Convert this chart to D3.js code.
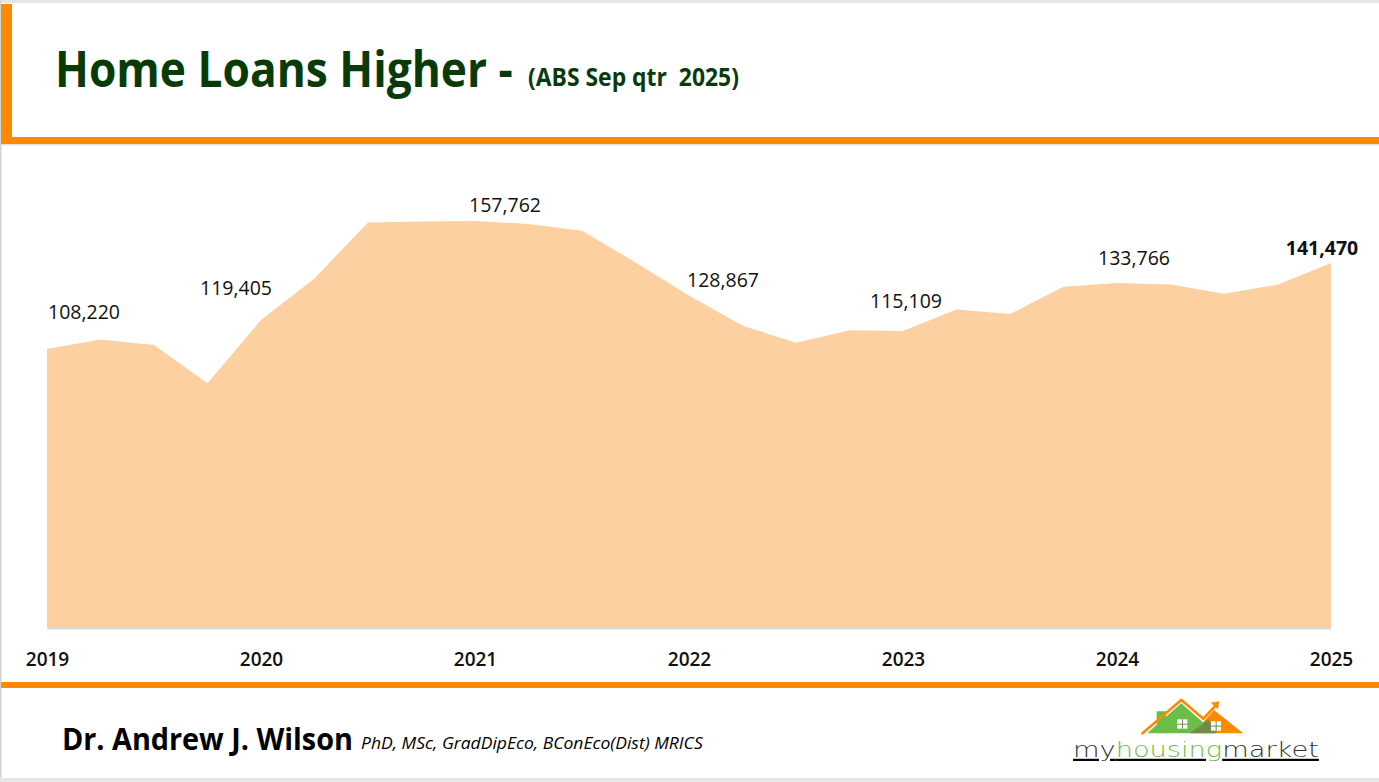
<!DOCTYPE html>
<html>
<head>
<meta charset="utf-8">
<script src="https://cdn.jsdelivr.net/npm/d3@7"></script>
<style>
  body { margin: 0; background: #fff; }
  svg { display: block; font-family: "Open Sans", sans-serif; }
</style>
</head>
<body>
<div id="chart"></div>
<script>
// quarterly home loan counts, 2019 to 2025 (ABS)
var quarters = d3.range(25);
var loans = [108220, 111900, 109700, 94900, 119405, 135500, 157200, 157600, 157762,
  156600, 154000, 141700, 128867, 117200, 110600, 115400, 115109, 123500, 121700,
  132300, 133766, 133200, 129600, 133100, 141470];
var yearTicks = [0, 4, 8, 12, 16, 20, 24];
var yearLabels = ["2019", "2020", "2021", "2022", "2023", "2024", "2025"];
var labelled = [0, 4, 8, 12, 16, 20, 24];

// label nudges (px) so the values sit where the original put them
var labelShift = [[37, -30], [-25, -25], [30, -9], [34, -9], [3, -23], [17, -18], [-9, -8]];

var svgWidth = 1379, svgHeight = 782;
var svg = d3.select("#chart").append("svg")
  .attr("width", svgWidth)
  .attr("height", svgHeight);

// squeeze a text horizontally to a given width (Calibri is narrower than our fonts)
function fitText(t, x0, y0, w) {
  var natural = t.node().getComputedTextLength();
  t.attr("x", 0).attr("y", 0)
    .attr("transform", "translate(" + x0 + "," + y0 + ") scale(" + (w / natural) + ",1)");
  return t;
}

// slide frame
svg.append("rect").attr("x", 0).attr("y", 0).attr("width", svgWidth).attr("height", 3).attr("fill", "#e6e6e6");
svg.append("rect").attr("x", 0).attr("y", 0).attr("width", 1.5).attr("height", svgHeight).attr("fill", "#d4d4d4");
svg.append("rect").attr("x", 0).attr("y", 778).attr("width", svgWidth).attr("height", 4).attr("fill", "#e6e6e6");

// orange header frame
svg.append("rect").attr("x", 1).attr("y", 4).attr("width", 11).attr("height", 140).attr("fill", "#ff8a00");
svg.append("rect").attr("x", 1).attr("y", 137).attr("width", svgWidth).attr("height", 7).attr("fill", "#ff8a00");
svg.append("rect").attr("x", 1).attr("y", 144).attr("width", svgWidth).attr("height", 1.5).attr("fill", "#e3e3e3");
// footer rule
svg.append("rect").attr("x", 1).attr("y", 682).attr("width", svgWidth).attr("height", 6).attr("fill", "#ff8a00");

// title
var title = svg.append("text")
  .attr("fill", "#093b09")
  .style("font-weight", "bold")
  .style("font-size", "51px")
  .text("Home Loans Higher -");
fitText(title, 55, 87, 458);
var sub = svg.append("text")
  .attr("fill", "#093b09")
  .style("font-weight", "bold")
  .style("font-size", "25px")
  .style("white-space", "pre")
  .text("(ABS Sep qtr  2025)");
fitText(sub, 528, 86, 211);

// scales
var x = d3.scaleLinear().domain([0, 24]).range([47, 1331]);
var y = d3.scaleLinear().domain([0, 160000]).range([628.3, 215.2]);

var area = d3.area()
  .x(function (d, i) { return x(quarters[i]); })
  .y0(y(0))
  .y1(function (d) { return y(d); });

svg.append("path")
  .datum(loans)
  .attr("d", area)
  .attr("fill", "#fdd0a2");

// year axis
var xAxis = d3.axisBottom(x)
  .tickValues(yearTicks)
  .tickSize(0)
  .tickPadding(24)
  .tickFormat(function (d, i) { return yearLabels[i]; });

var axisG = svg.append("g")
  .attr("transform", "translate(0, " + y(0) + ")")
  .call(xAxis);
axisG.select(".domain").attr("stroke", "#d9d9d9").attr("stroke-width", 1.5);
axisG.selectAll("text")
  .attr("fill", "#111")
  .style("font-family", "'Open Sans', sans-serif")
  .style("font-size", "19px")
  .style("font-weight", "600");

// value labels
svg.selectAll("text.val")
  .data(labelled)
  .enter()
  .append("text")
  .attr("class", "val")
  .attr("x", function (d, i) { return x(quarters[d]) + labelShift[i][0]; })
  .attr("y", function (d, i) { return y(loans[d]) + labelShift[i][1]; })
  .attr("text-anchor", "middle")
  .attr("fill", "#111")
  .style("font-size", "19.5px")
  .style("font-weight", function (d, i) { return i === labelled.length - 1 ? "bold" : "normal"; })
  .text(function (d) { return d3.format(",")(loans[d]); });

// author line
var author = svg.append("text")
  .style("font-weight", "bold")
  .style("font-size", "30px")
  .attr("fill", "#000")
  .text("Dr. Andrew J. Wilson");
fitText(author, 62, 750, 291);
var creds = svg.append("text")
  .style("font-style", "italic")
  .style("font-size", "17px")
  .attr("fill", "#000")
  .text("PhD, MSc, GradDipEco, BConEco(Dist) MRICS");
fitText(creds, 361, 749, 342);

// myhousingmarket logo (drawn in 3x local units)
var logo = svg.append("g").attr("transform", "translate(1060,690) scale(0.3333)");
logo.append("path")
  .attr("d", "M400,130 L462,60 L550,130 Z")
  .attr("fill", "#ff8a00");
logo.append("path")
  .attr("d", "M262,130 L290,104 L290,64 L318,64 L318,80 L364,40 L432,100 L400,130 Z")
  .attr("fill", "#6cbd45");
logo.append("path")
  .attr("d", "M388,130 L432,100 L450,80 L400,130 Z M400,130 L432,100 L445,88 L470,130 Z")
  .attr("fill", "#6e8d4a");
logo.append("path")
  .attr("d", "M245,132 L364,30 L430,86 L470,44")
  .attr("fill", "none")
  .attr("stroke", "#ff8a00")
  .attr("stroke-width", 8);
logo.append("path")
  .attr("d", "M452,38 L478,34 L474,58 Z")
  .attr("fill", "#ff8a00");
[[352, 88], [453, 94]].forEach(function (p) {
  logo.append("rect").attr("x", p[0]).attr("y", p[1]).attr("width", 30).attr("height", 28).attr("fill", "#fff");
  logo.append("rect").attr("x", p[0] + 14).attr("y", p[1]).attr("width", 3).attr("height", 28).attr("fill", "#6e8d4a");
  logo.append("rect").attr("x", p[0]).attr("y", p[1] + 13).attr("width", 30).attr("height", 3).attr("fill", "#6e8d4a");
});
var logoText = svg.append("text")
  .style("font-family", "'DejaVu Sans', sans-serif")
  .style("font-size", "22px")
  .style("font-weight", "300")
  .style("text-decoration", "underline");
logoText.append("tspan").attr("fill", "#333").text("my");
logoText.append("tspan").attr("fill", "#6cbd45").text("housing");
logoText.append("tspan").attr("fill", "#333").text("market");
fitText(logoText, 1073, 757, 246);
</script>
</body>
</html>
